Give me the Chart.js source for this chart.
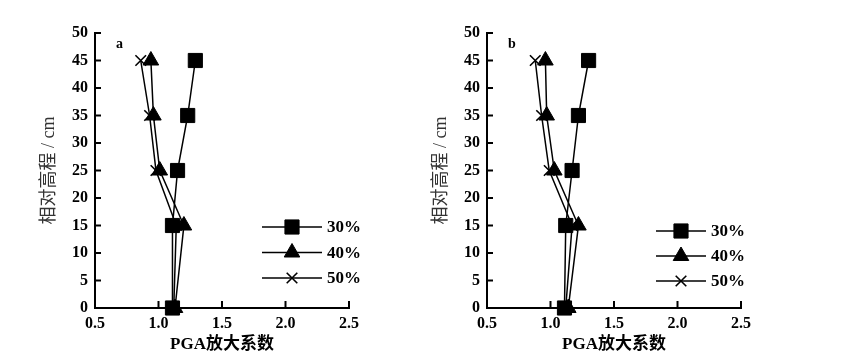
<!DOCTYPE html>
<html>
<head>
<meta charset="utf-8">
<script src="https://cdn.jsdelivr.net/npm/chart.js@4/dist/chart.umd.min.js"></script>
<style>
  body { margin: 0; background: #fff; }
  #wrap { position: relative; width: 844px; height: 360px; }
  canvas { position: absolute; top: 0; }
</style>
</head>
<body>
<div id="wrap">
  <canvas id="chartA" width="392" height="360" style="left:0px"></canvas>
  <canvas id="chartB" width="392" height="360" style="left:392px"></canvas>
</div>
<script>
  // Relative height (cm) for each measuring point
  const heights = [0, 15, 25, 35, 45];

  // PGA amplification, panel a
  const pgaA30 = [1.11, 1.11, 1.15, 1.23, 1.29];
  const pgaA40 = [1.13, 1.20, 1.01, 0.96, 0.94];
  const pgaA50 = [1.12, 1.14, 0.98, 0.93, 0.86];

  // PGA amplification, panel b
  const pgaB30 = [1.11, 1.12, 1.17, 1.22, 1.30];
  const pgaB40 = [1.14, 1.22, 1.03, 0.97, 0.96];
  const pgaB50 = [1.12, 1.17, 0.99, 0.93, 0.88];

  const seriesNames = ["30%", "40%", "50%"];
  const xTicks = [0.5, 1.0, 1.5, 2.0, 2.5];
  const yTicks = [0, 5, 10, 15, 20, 25, 30, 35, 40, 45, 50];

  const tickFont = { family: "'Liberation Serif', 'Times New Roman', serif", size: 16, weight: "bold" };

  const markers = [
    { pointStyle: "rect", pointRadius: 10, pointBorderWidth: 1 },
    { pointStyle: "triangle", pointRadius: 9, pointBorderWidth: 1 },
    { pointStyle: "crossRot", pointRadius: 7.5, pointBorderWidth: 1.6 }
  ];

  function toPoints(xs) {
    return xs.map((v, i) => ({ x: v, y: heights[i] }));
  }

  // Draws inward tick marks, the panel letter and the inside legend
  const extras = {
    id: "extras",
    afterDraw(chart, args, opts) {
      const ctx = chart.ctx;
      const xs = chart.scales.x, ys = chart.scales.y;
      ctx.save();
      ctx.strokeStyle = "#000";
      ctx.lineWidth = 2;
      xTicks.slice(1).forEach(t => {
        const px = xs.getPixelForValue(t);
        ctx.beginPath();
        ctx.moveTo(px, ys.bottom);
        ctx.lineTo(px, ys.bottom - 7);
        ctx.stroke();
      });
      yTicks.slice(1).forEach(t => {
        const py = ys.getPixelForValue(t);
        ctx.beginPath();
        ctx.moveTo(xs.left, py);
        ctx.lineTo(xs.left + 6, py);
        ctx.stroke();
      });

      ctx.fillStyle = "#000";
      ctx.font = "bold 14px 'Liberation Serif', serif";
      ctx.textBaseline = "middle";
      ctx.fillText(opts.letter, opts.letterX, opts.letterY);

      chart.data.datasets.forEach((ds, i) => {
        const y = opts.legendY + i * opts.legendGap;
        ctx.lineWidth = 1.3;
        ctx.strokeStyle = "#000";
        ctx.beginPath();
        ctx.moveTo(opts.legendX, y);
        ctx.lineTo(opts.legendX + opts.legendLen, y);
        ctx.stroke();
        ctx.fillStyle = "#000";
        ctx.lineWidth = ds.pointBorderWidth;
        Chart.helpers.drawPoint(ctx, {
          pointStyle: ds.pointStyle, radius: ds.pointRadius, rotation: 0, borderWidth: ds.pointBorderWidth
        }, opts.legendX + opts.legendLen / 2, y);
        ctx.font = "bold 17px 'Liberation Serif', serif";
        ctx.fillText(ds.label, opts.legendX + opts.legendLen + 5, y + 1);
      });
      ctx.restore();
    }
  };

  function makeChart(canvas, s30, s40, s50, extraOpts) {
    const values = [s30, s40, s50];
    return new Chart(canvas, {
      type: "scatter",
      data: {
        datasets: values.map((v, i) => Object.assign({
          label: seriesNames[i],
          data: toPoints(v),
          showLine: true,
          borderColor: "#000",
          borderWidth: 1.5,
          backgroundColor: "#000",
          pointBackgroundColor: "#000",
          pointBorderColor: "#000",
          clip: false
        }, markers[i]))
      },
      options: {
        responsive: false,
        animation: false,
        layout: { padding: { left: 0, right: 43, top: 33, bottom: 0 } },
        plugins: {
          legend: { display: false },
          tooltip: { enabled: false },
          extras: extraOpts
        },
        scales: {
          x: {
            type: "linear",
            min: 0.5,
            max: 2.5,
            afterBuildTicks: s => { s.ticks = xTicks.map(v => ({ value: v })); },
            afterFit: s => { s.height = 52; },
            grid: { display: false, drawTicks: false },
            border: { display: true, color: "#000", width: 2 },
            ticks: { color: "#000", font: tickFont, padding: 6, maxRotation: 0, callback: v => v.toFixed(1) },
            title: {
              display: true, text: "PGA放大系数", color: "#000",
              font: { family: "'Liberation Serif', 'Noto Sans CJK SC', serif", size: 17, weight: "bold" },
              padding: { top: 0, bottom: 5 }
            }
          },
          y: {
            type: "linear",
            min: 0,
            max: 50,
            afterBuildTicks: s => { s.ticks = yTicks.map(v => ({ value: v })); },
            afterFit: s => { s.width = 95; },
            grid: { display: false, drawTicks: false },
            border: { display: true, color: "#000", width: 2 },
            ticks: { color: "#000", font: tickFont, padding: 7 },
            title: {
              display: true, text: "相对高程 / cm", color: "#333",
              font: { family: "'Liberation Serif', 'Noto Sans CJK SC', serif", size: 18 },
              padding: { top: 38, bottom: 0 }
            }
          }
        }
      },
      plugins: [extras]
    });
  }

  makeChart(document.getElementById("chartA"), pgaA30, pgaA40, pgaA50,
    { letter: "a", letterX: 116, letterY: 44, legendX: 262, legendLen: 60, legendY: 227, legendGap: 25.5 });
  makeChart(document.getElementById("chartB"), pgaB30, pgaB40, pgaB50,
    { letter: "b", letterX: 116, letterY: 44, legendX: 264, legendLen: 50, legendY: 231, legendGap: 25 });
</script>
</body>
</html>
